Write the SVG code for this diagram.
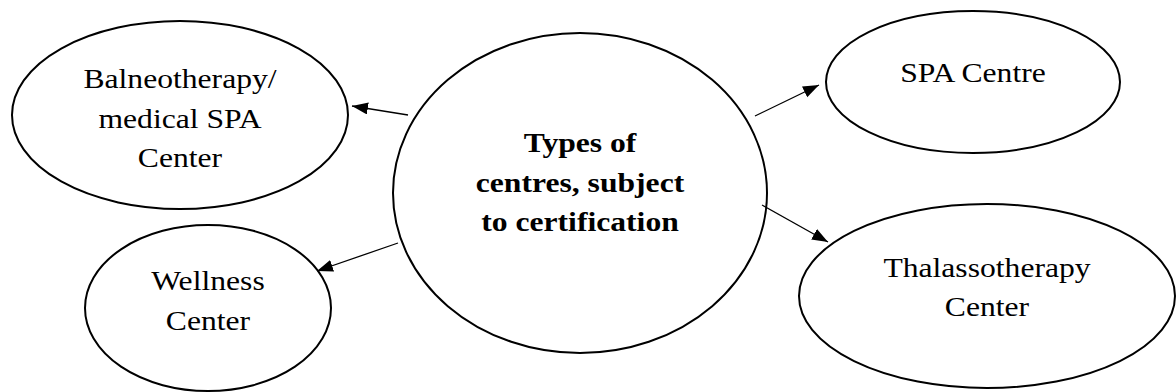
<svg xmlns="http://www.w3.org/2000/svg" width="1176" height="392" viewBox="0 0 1176 392">
  <style>
    .node { fill: #ffffff; stroke: #000000; stroke-width: 2; }
    .label { font-family: 'Liberation Serif', 'DejaVu Serif', serif; font-size: 28px; fill: #000000; text-anchor: middle; }
    .bold { font-weight: bold; }
    .edge { stroke: #000000; stroke-width: 1.3; fill: none; marker-end: url(#arrow); }
  </style>
  <defs>
    <marker id="arrow" markerUnits="userSpaceOnUse" markerWidth="17" markerHeight="13" refX="16" refY="6" orient="auto">
      <path d="M0,0 L16,6 L0,12 Z" fill="#000000"/>
    </marker>
  </defs>
  <rect width="1176" height="392" fill="#ffffff"/>

  <!-- central topic -->
  <g id="node-types">
    <ellipse class="node" cx="580" cy="193" rx="187" ry="160"/>
    <g transform="translate(580 0) scale(1.13 1)" font-family="Liberation Serif, serif">
      <text class="label bold" x="0" y="152">Types of</text>
      <text class="label bold" x="0" y="192">centres, subject</text>
      <text class="label bold" x="0" y="231">to certification</text>
    </g>
  </g>

  <g id="node-balneo">
    <ellipse class="node" cx="180" cy="115" rx="168" ry="94"/>
    <g transform="translate(180 0) scale(1.13 1)">
      <text class="label" x="0" y="88">Balneotherapy/</text>
      <text class="label" x="0" y="128">medical SPA</text>
      <text class="label" x="0" y="167">Center</text>
    </g>
  </g>

  <g id="node-wellness">
    <ellipse class="node" cx="208" cy="308" rx="123" ry="83"/>
    <g transform="translate(208 0) scale(1.13 1)">
      <text class="label" x="0" y="290">Wellness</text>
      <text class="label" x="0" y="330">Center</text>
    </g>
  </g>

  <g id="node-spa">
    <ellipse class="node" cx="973" cy="82" rx="147" ry="71"/>
    <g transform="translate(973 0) scale(1.13 1)">
      <text class="label" x="0" y="82">SPA Centre</text>
    </g>
  </g>

  <g id="node-thalasso">
    <ellipse class="node" cx="987" cy="296" rx="188" ry="92"/>
    <g transform="translate(987 0) scale(1.13 1)">
      <text class="label" x="0" y="277">Thalassotherapy</text>
      <text class="label" x="0" y="316">Center</text>
    </g>
  </g>

  <!-- connectors from the central topic -->
  <g id="connectors">
    <line class="edge" x1="408" y1="115" x2="352" y2="106"/>
    <line class="edge" x1="398" y1="243" x2="317" y2="271"/>
    <line class="edge" x1="755" y1="116" x2="819" y2="85"/>
    <line class="edge" x1="762" y1="205" x2="828" y2="242"/>
  </g>
</svg>
